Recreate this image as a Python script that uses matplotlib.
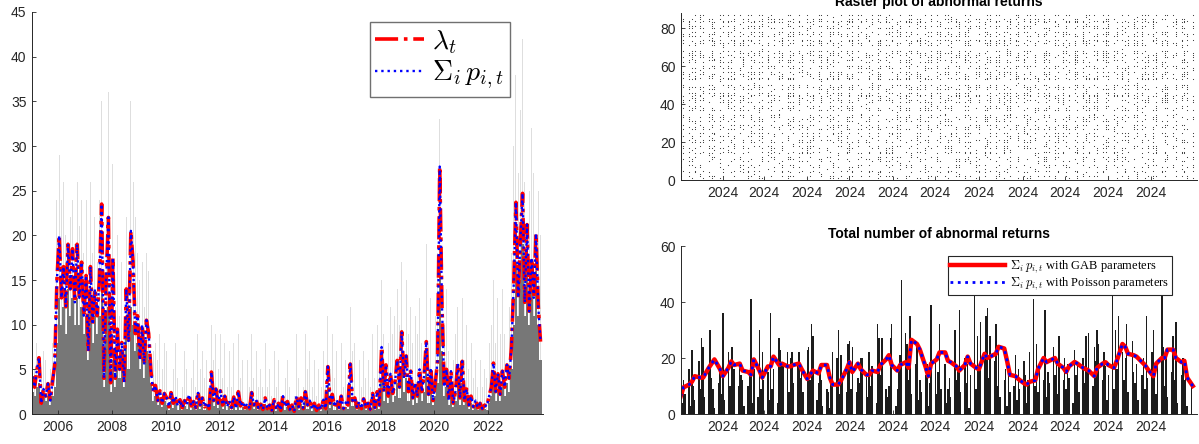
import pandas as pd
import matplotlib
matplotlib.use('Agg')
import matplotlib.pyplot as plt
import matplotlib.dates as mdates

plt.rcParams['font.family'] = ['Liberation Sans', 'DejaVu Sans']
plt.rcParams['mathtext.fontset'] = 'cm'

# --- Left panel: monthly values, Jan 2005 .. Dec 2023 (one row per year) ---
lam = [
    4.2, 3.0, 4.8, 6.3, 1.2, 2.8, 2.0, 3.4, 1.5, 3.6, 5.5, 15.0,
    20.0, 13.0, 16.5, 12.0, 19.0, 14.0, 18.5, 12.5, 19.0, 13.0, 17.0, 11.0,
    15.5, 7.0, 16.5, 10.0, 14.0, 11.0, 15.0, 23.5, 4.0, 15.0, 22.0, 3.5,
    17.5, 4.0, 9.5, 5.0, 8.0, 3.5, 14.0, 8.0, 20.5, 17.0, 9.0, 11.0,
    6.0, 10.0, 5.5, 10.5, 9.0, 4.8, 2.5, 3.2, 1.5, 2.6, 1.2, 2.3,
    1.8, 0.8, 2.4, 1.2, 2.0, 0.9, 1.6, 0.7, 1.5, 1.0, 2.2, 0.9,
    1.4, 0.7, 2.5, 1.0, 1.8, 0.8, 1.3, 0.6, 4.7, 1.5, 2.8, 1.2,
    2.6, 1.0, 2.0, 0.8, 1.5, 0.7, 1.9, 0.6, 2.5, 0.9, 1.4, 0.7,
    1.2, 0.6, 2.4, 1.0, 1.6, 0.7, 1.1, 0.5, 1.8, 0.6, 1.0, 0.4,
    1.6, 0.5, 1.2, 0.4, 2.0, 0.8, 1.4, 0.5, 1.0, 0.3, 2.0, 0.8,
    1.8, 0.6, 2.5, 1.0, 1.5, 0.5, 1.2, 0.4, 1.0, 0.5, 1.6, 0.6,
    5.3, 1.2, 2.2, 0.8, 1.6, 0.7, 2.0, 0.6, 1.3, 1.0, 5.6, 1.5,
    1.8, 0.7, 1.4, 0.6, 1.7, 0.8, 1.2, 0.5, 2.3, 0.7, 2.5, 1.0,
    7.5, 2.5, 5.5, 2.0, 4.5, 2.3, 3.5, 6.0, 3.0, 9.2, 4.0, 6.5,
    2.5, 4.8, 1.8, 3.5, 2.0, 5.0, 2.5, 4.2, 8.1, 2.2, 5.2, 1.5,
    3.5, 6.0, 27.7, 12.0, 3.0, 5.0, 1.5, 4.8, 1.2, 2.5, 5.7, 1.8,
    5.9, 1.5, 2.8, 1.0, 2.0, 0.8, 1.5, 0.7, 1.2, 0.6, 1.0, 0.8,
    2.0, 3.0, 5.7, 2.5, 4.5, 2.2, 4.8, 3.0, 5.5, 4.0, 7.5, 14.2,
    23.7, 13.0, 19.0, 24.7, 12.5, 21.2, 11.5, 17.5, 13.0, 20.2, 12.0, 8.1,
]
sum_p = list(lam)  # the dotted curve lies on top of lambda_t in the picture

# tallest daily counts in each month (light grey spikes)
bars_hi = [
    9, 5, 8, 10, 4, 7, 6, 9, 5, 8, 10, 24,
    29, 24, 26, 20, 29, 22, 24, 19, 26, 21, 24, 18,
    24, 14, 26, 18, 22, 17, 24, 35, 13, 22, 36, 10,
    28, 12, 20, 11, 17, 10, 22, 16, 35, 26, 22, 18,
    15, 17, 12, 18, 16, 10, 7, 8, 6, 9, 5, 8,
    7, 4, 9, 5, 8, 4, 6, 3, 7, 5, 9, 4,
    6, 3, 9, 5, 7, 4, 6, 3, 10, 6, 9, 5,
    9, 4, 8, 3, 7, 3, 8, 3, 9, 4, 6, 3,
    6, 3, 9, 4, 7, 3, 5, 3, 8, 3, 5, 2,
    7, 3, 6, 2, 8, 4, 6, 3, 5, 2, 9, 4,
    8, 3, 9, 5, 7, 3, 6, 2, 5, 3, 7, 3,
    11, 5, 9, 4, 7, 3, 8, 3, 6, 5, 12, 7,
    8, 4, 6, 3, 7, 4, 6, 3, 9, 4, 10, 5,
    15, 9, 13, 8, 12, 9, 11, 14, 10, 17, 13, 15,
    9, 12, 8, 11, 9, 13, 8, 12, 19, 8, 13, 7,
    11, 18, 33, 20, 10, 14, 7, 13, 6, 9, 12, 7,
    13, 6, 10, 5, 8, 4, 6, 3, 6, 3, 5, 4,
    8, 10, 15, 8, 13, 9, 14, 9, 15, 12, 18, 30,
    38, 27, 34, 42, 26, 36, 25, 32, 27, 36, 25, 20,
]

# bulk of the daily counts in each month (dark grey)
bars_lo = [
    2.5, 2.0, 3.0, 3.5, 1.0, 2.0, 1.5, 2.0, 1.0, 2.0, 3.0, 8.0,
    13, 10, 12, 9, 14, 11, 13, 10, 13, 10, 12, 9,
    11, 6, 12, 8, 11, 9, 11, 14, 3, 10, 12, 2.5,
    6, 3, 6, 4, 6, 3, 9, 5, 12, 10, 7, 8,
    5, 7, 4, 7, 6, 3.5, 1.5, 2, 1, 1.5, 0.8, 1.5,
    1.0, 0.5, 1.4, 0.7, 1.2, 0.5, 1.0, 0.4, 0.9, 0.6, 1.3, 0.5,
    0.8, 0.4, 1.5, 0.6, 1.1, 0.5, 0.8, 0.4, 2.8, 0.9, 1.7, 0.7,
    1.5, 0.6, 1.2, 0.5, 0.9, 0.4, 1.1, 0.4, 1.5, 0.5, 0.8, 0.4,
    0.7, 0.4, 1.4, 0.6, 1.0, 0.4, 0.7, 0.3, 1.1, 0.4, 0.6, 0.3,
    1.0, 0.3, 0.7, 0.3, 1.2, 0.5, 0.8, 0.3, 0.6, 0.2, 1.2, 0.5,
    1.1, 0.4, 1.5, 0.6, 0.9, 0.3, 0.7, 0.3, 0.6, 0.3, 1.0, 0.4,
    3.2, 0.7, 1.3, 0.5, 1.0, 0.4, 1.2, 0.4, 0.8, 0.6, 3.4, 0.9,
    1.1, 0.4, 0.8, 0.4, 1.0, 0.5, 0.7, 0.3, 1.4, 0.4, 1.5, 0.6,
    4.0, 1.5, 3.0, 1.2, 2.5, 1.3, 2.0, 3.5, 1.8, 5.0, 2.5, 4.0,
    1.5, 3.0, 1.0, 2.0, 1.2, 3.0, 1.5, 2.5, 5.0, 1.2, 3.0, 1.0,
    2.0, 3.5, 16.0, 7.0, 2.0, 3.0, 1.0, 3.0, 0.8, 1.5, 3.4, 1.0,
    3.5, 1.0, 1.7, 0.6, 1.2, 0.5, 1.0, 0.4, 0.8, 0.4, 0.6, 0.5,
    1.2, 2.0, 3.5, 1.5, 2.8, 1.4, 3.0, 2.0, 3.5, 2.5, 5.0, 10.0,
    17, 11, 15, 19, 11, 17, 10, 14, 11, 16, 10, 6,
]

# --- Right panels: business days of 2024 ---
daily_total = [
    15, 4, 12, 7, 16, 3, 23, 10, 5, 19, 9, 27, 24, 6, 16, 30, 13, 9, 2, 11,
    16, 7, 36, 5, 22, 10, 24, 24, 16, 10, 17, 14, 12, 3, 10, 15, 41, 4, 16, 6,
    30, 9, 22, 12, 15, 5, 36, 9, 16, 4, 27, 23, 18, 17, 22, 8, 20, 22, 11, 18,
    22, 13, 17, 8, 23, 24, 12, 32, 28, 5, 11, 16, 12, 3, 9, 8, 2, 11, 22, 20,
    30, 7, 21, 12, 8, 25, 26, 9, 24, 8, 13, 11, 20, 20, 15, 6, 22, 10, 17, 4,
    32, 27, 14, 27, 9, 6, 10, 27, 32, 3, 9, 18, 21, 48, 29, 25, 12, 35, 7, 18,
    24, 5, 12, 8, 14, 18, 3, 11, 39, 20, 7, 15, 32, 9, 18, 4, 9, 13, 6, 30,
    12, 17, 37, 8, 20, 11, 18, 2, 14, 50, 9, 28, 16, 33, 21, 35, 38, 13, 28, 19,
    32, 10, 22, 6, 12, 16, 3, 18, 8, 10, 21, 5, 16, 9, 19, 14, 4, 12, 22, 41,
    10, 25, 8, 18, 12, 37, 6, 15, 11, 24, 14, 19, 7, 28, 12, 20, 9, 18, 13, 4,
    23, 14, 17, 8, 20, 11, 28, 16, 29, 10, 24, 19, 30, 25, 12, 22, 17, 5, 14, 50,
    9, 30, 16, 35, 22, 12, 20, 32, 8, 26, 15, 11, 18, 5, 14, 20, 9, 35, 13, 22,
    30, 17, 7, 19, 50, 24, 10, 22, 6, 15, 28, 12, 33, 4, 14, 20, 12, 18, 3, 11,
    0,
]

# every second business day
gab_sum = [
    6.3, 9.5, 10.5, 11.5, 13.5, 13.0, 13.0, 16.5, 18.0, 19.5,
    16.0, 13.5, 16.5, 18.8, 17.5, 18.0, 15.5, 15.0, 14.0, 19.5,
    15.5, 13.0, 17.0, 17.0, 20.5, 17.5, 18.0, 17.0, 17.0, 17.5,
    18.0, 16.0, 12.5, 14.0, 15.5, 14.5, 17.5, 17.5, 13.0, 10.5,
    10.5, 12.0, 16.0, 18.5, 15.0, 18.0, 16.0, 14.0, 14.0, 15.5,
    15.0, 17.5, 19.5, 21.0, 17.5, 15.5, 17.5, 18.5, 16.5, 26.5,
    25.0, 23.0, 17.0, 13.5, 18.0, 19.5, 22.0, 22.0, 19.0, 18.5,
    17.0, 15.5, 17.5, 20.5, 18.0, 16.5, 16.0, 21.5, 20.0, 20.5,
    21.5, 24.0, 23.4, 19.0, 14.0, 13.5, 12.5, 11.0, 10.5, 11.5,
    12.0, 16.0, 20.0, 18.5, 19.0, 20.0, 18.0, 16.5, 15.0, 17.0,
    18.6, 18.0, 16.5, 16.0, 15.5, 13.5, 16.5, 18.0, 18.5, 17.5,
    16.5, 19.0, 25.0, 24.0, 21.5, 21.0, 20.5, 18.5, 17.5, 16.0,
    13.5, 18.0, 20.0, 20.0, 23.0, 23.0, 20.0, 18.5, 19.0, 13.0,
    10.0,
]
poisson_sum = list(gab_sum)  # both curves coincide in the picture

# raster: one hex string per asset (row 1 at the bottom), one bit per 2 business days
raster_rows = [
    "12a04c1083a0214d0890a2c114052a806", "a5d2693c4b5a9e61d3a4c95b26e4a9d35",
    "0400100008002000010040000200080010", "2914c02a5108b4122a0c5180a5314a209",
    "4a0358b1206ad2054c19a2368c1054b2a", "0010820004100082000410200008400100",
    "8c2150a6319c0452ab108c4630a9152c6", "3409a82c51068ad2031c490b624a81c53",
    "0020004001000080002000100400020000", "b104c6238a105d2463b08a1c5246a0918",
    "50a3249c18a5b20643c9128d0a4b519a2", "28c1059a46023b98c0524a1d8315c40a6",
    "0100020000800010000400200001000800", "4da28153c0a69e1248b5a031c6a284d19",
    "a21c4685b2309a4c17a5280e4c9b2153a", "1048012084100a0204102801042080401",
    "69b2c5a1d4386e2a9c45b1e2963ad5c48", "c54a9b26e0d4a3915ca6b38d2a4e19c63",
    "0002000400100008000200040010000800", "9e24b5a3c16d8a4529e3b1c5a68d2491e",
    "2bd4a9136ec5289b4d1a7362c94ae5138", "1082041020a0410821040a2081041082",
    "d53a6c91b4e2a58d36c19a4be5726a9c3", "0040008001000200040000800100020004",
    "a6c93e25b1d4a78c26e9b3a5d4c1e8b52", "0000200000400000800001000002000000",
    "5b2e8c4a9d36b1e5a2c94d7b3a6e1c82d", "2a9124c583a16b0942d8a5136c0a92b41",
    "c4a7d93b65e2a18d5c3b96a4e72d1c5b8", "0800001000040000200000800001000002",
    "3d6a1c8e52b9a4d73c16e8a52b9d4c6a1", "a0942c15a3208b4c1926a0d1534a82c06",
    "e5b2a9c46d3a81e5c2b79d4a36e1b8c52", "4093a1c0528a6124b0c5398a10d25a4c0",
    "0100004000020000100008000040000200", "0000080000000100000000200000040000",
    "b6e3c94a1d58b2e7a4c6193db5a2e8c47", "5a8d1e3c62b9a4e75c13d8b6a2e94c5b1",
    "2c0a9514b36a0182d4c59a02136c8a415", "0008000200010000800020004000100008",
    "c93d6b1e4a58c2e7b3a96d14c5e82b7a3", "6e1b85c2a9d47e3a1c6b58e2d9a4c73b6",
    "1a24c0932a8514c0a9216b05c2a8193d4", "d4b9a25e6c13b8e4a7d92c5b16e3a9d52",
    "8c5e3b96a2d7c14e8b5a93c6d2e7b41a9", "3b7a4e1c95d2a6b8e3c17d9a4b2e6c58d",
    "0200010004000800002000400100002000", "a5c2e8b41d9a6c3e7b52a8d4c91e6b3a5",
    "7e4a9c16b3d8e25a4c7b91e3d6a28c5b4", "c19d5b2e8a4c73e6b1d9a52c8e4b7a13d",
    "0000100000004000000002000000080000", "0020000008000004000000100000200000",
    "b82e6a5c1d94b7e3a2c68d5b19e4a7c32", "4d9a3e7c25b8a16e4d93c7b2a5e18d6c4",
    "29a4c06153a8b12d40c9a6250b3c84a19", "e6c3b9a4d2e8715c3a9b6d4e2c81a7b5d",
    "5a1e7d4b93c6a2e85b1d7c4a9e36b2d8c", "0401000100004002000080001000400020",
    "9b5d2a8e4c17b6a3d95e2c8b4a71e6d3a", "c2e8a7b51d3e9c6a4b28d7e5a1c93b6e4",
    "0000800002000010000400000800002000", "6a3c9e5b2d81a4e7c6b3d92a5e8c4b71d",
    "a9e4b27c6d3a58e1b4c9d72a6e3b85c1a", "1040820104082010408201040820104082",
    "d7b3a6e91c4d8a25e7b3c6a94d1e8b5c2", "3e8c5a2d7b91e4c6a3d85b2e9c7a41d6b",
    "b4a1d8e6c3a92b5e7d4c1a8e6b3d9c52a", "5c9b2e4a7d6c13b8e5a2d9c46e7b1a38d",
    "0000040000002000000010000000800000", "0010000000800000040000002000000100",
    "a8d3c6b1e94a7d25c8e3b6a1d94c7e2b5", "4e7b9a2c5d8e31b6a4c7e92d5b8a3c6e1",
    "94c2a0613a58b21d04c9a6520b3c48a91", "c3a6e8b5d21c9a4e7b3d6c85a2e9b4d17",
    "0080002000010004000008000200004000", "7d2b5e9c4a6d83e1b7c5a2d94e6b3c8a5",
    "e1c8a4d7b3e52c9a6d8b4e1c7a3d95b2e", "9a5d3c6e2b8a47d1e9c6b3a5e28d4c7b1",
    "0002000080000100004000020000800010", "b6e2d9a4c7b53e8a1d6c9b4e2a7d5c83b",
    "3c9a7e1b5d4c82a6e3b9d5c1a7e4b68d2", "2081041020a0410821040a2081041082",
    "a4d8b3e6c19a5d7e2b4c8a6d3e91b5c7a", "6b1e5c9a3d7b28e4c6a1d95b3e7c4a82d",
    "d5a2c7e4b81d6a3c9e5b2d7a4c8e16b39", "0400020001000800040002000100080004",
    "8e3b6d1a9c5e74b2d8a3c6e9b1d4a75c2",
]

AX_COL = '#262626'


def style_axes(ax):
    for s in ['top', 'right']:
        ax.spines[s].set_visible(False)
    for s in ['left', 'bottom']:
        ax.spines[s].set_color(AX_COL)
        ax.spines[s].set_linewidth(0.7)
    ax.tick_params(direction='in', length=3, width=0.6, colors=AX_COL,
                   labelsize=10, pad=4)


fig = plt.figure(figsize=(11.99, 4.44), dpi=100)

# ---------------- left panel ----------------
months = pd.date_range('2005-01-01', periods=len(lam), freq='MS') + pd.Timedelta(days=14)
ax1 = fig.add_axes([32 / 1199, 30 / 444, 511 / 1199, 402 / 444])
ax1.bar(months, bars_hi, width=12, color='#dedede', linewidth=0)
ax1.bar(months, bars_lo, width=31, color='#777777', linewidth=0)
ax1.plot(months, lam, color='red', ls='-.', lw=2.6, label=r'$\lambda_t$')
ax1.plot(months, sum_p, color='blue', ls=':', lw=1.7, label=r'$\Sigma_i\, p_{i,t}$')
ax1.set_xlim(pd.Timestamp('2005-01-10'), pd.Timestamp('2024-01-18'))
ax1.set_ylim(0, 45)
ax1.set_yticks(range(0, 46, 5))
ax1.set_xticks([pd.Timestamp(f'{y}-01-01') for y in range(2006, 2023, 2)])
ax1.xaxis.set_major_formatter(mdates.DateFormatter('%Y'))
style_axes(ax1)
leg1 = ax1.legend(loc='upper left', bbox_to_anchor=(0.661, 0.974), fontsize=20,
                  handlelength=1.75, handletextpad=0.3, borderpad=0.2,
                  labelspacing=0.12, fancybox=False, framealpha=1,
                  edgecolor='#707070', borderaxespad=0)
leg1.get_frame().set_linewidth(1.0)

# ---------------- right panels ----------------
bdays = pd.bdate_range('2024-01-02', '2024-12-31')
every2 = bdays[::2]
x_lo, x_hi = pd.Timestamp('2024-01-02 06:00'), pd.Timestamp('2025-01-03')

ax2 = fig.add_axes([681 / 1199, 264 / 444, 516 / 1199, 167 / 444])
xs, ys = [], []
for k, row in enumerate(raster_rows):
    bits = ''.join(format(int(c, 16), '04b') for c in row)
    for j, b in enumerate(bits[:len(every2)]):
        if b == '1':
            xs.append(every2[j])
            ys.append(k + 1)
ax2.plot(xs, ys, ls='none', marker='s', ms=0.75, mew=0, color='#444444')
ax2.set_xlim(x_lo, x_hi)
ax2.set_ylim(0, 88)
ax2.set_yticks(range(0, 81, 20))
ax2.set_title('Raster plot of abnormal returns', fontsize=10, fontweight='bold', pad=5)

ax3 = fig.add_axes([681 / 1199, 30 / 444, 516 / 1199, 168 / 444])
ax3.bar(bdays[:len(daily_total)], daily_total, width=1.0, color='#1c1c1c', linewidth=0)
ax3.plot(every2[:len(gab_sum)], gab_sum, color='red', lw=3.2,
         label=r'$\Sigma_i\, p_{i,t}$ with GAB parameters')
ax3.plot(every2[:len(poisson_sum)], poisson_sum, color='blue', ls=':', lw=2.0,
         label=r'$\Sigma_i\, p_{i,t}$ with Poisson parameters')
ax3.set_xlim(x_lo, x_hi)
ax3.set_ylim(0, 60)
ax3.set_yticks([0, 20, 40, 60])
ax3.set_title('Total number of abnormal returns', fontsize=10, fontweight='bold', pad=5.5)
leg3 = ax3.legend(loc='upper right', bbox_to_anchor=(0.952, 0.94), borderaxespad=0,
                  prop={'family': 'Liberation Serif', 'size': 9},
                  handlelength=4.4, handletextpad=0.4, borderpad=0.2,
                  labelspacing=0.05, fancybox=False, framealpha=1, edgecolor=AX_COL)
leg3.get_frame().set_linewidth(0.8)

for ax in (ax2, ax3):
    ax.xaxis.set_major_locator(mdates.MonthLocator(bymonth=range(2, 13)))
    ax.xaxis.set_major_formatter(mdates.DateFormatter('%Y'))
    style_axes(ax)

fig.savefig('out.png', dpi=100)
